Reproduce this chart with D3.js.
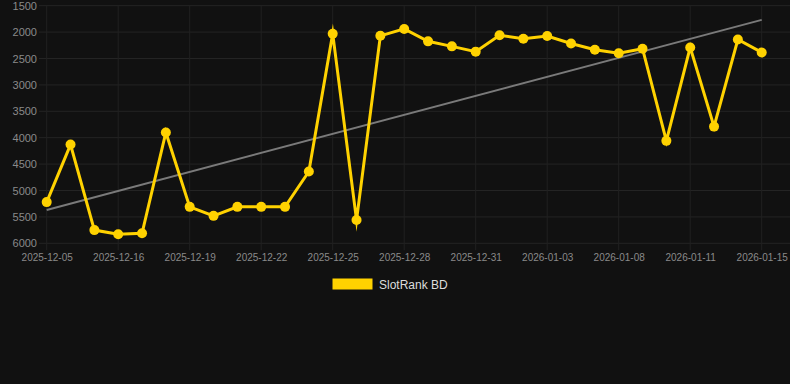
<!DOCTYPE html>
<html>
<head>
<meta charset="utf-8">
<script src="https://cdn.jsdelivr.net/npm/d3@7"></script>
<style>
  html, body { margin: 0; padding: 0; background: #111111; }
  svg { display: block; }
  text { font-family: "Liberation Sans", Arial, sans-serif; }
</style>
</head>
<body>
<svg id="chart" width="790" height="384"></svg>
<script>
const dates = [
  "2025-12-05","2025-12-13","2025-12-14","2025-12-16","2025-12-17","2025-12-18",
  "2025-12-19","2025-12-20","2025-12-21","2025-12-22","2025-12-23","2025-12-24",
  "2025-12-25","2025-12-26","2025-12-27","2025-12-28","2025-12-29","2025-12-30",
  "2025-12-31","2026-01-01","2026-01-02","2026-01-03","2026-01-04","2026-01-05",
  "2026-01-08","2026-01-09","2026-01-10","2026-01-11","2026-01-12","2026-01-13",
  "2026-01-15"
];
const rankValues = [
  5220, 4130, 5750, 5830, 5810, 3900,
  5310, 5480, 5310, 5310, 5310, 4640,
  2030, 5560, 2070, 1940, 2175, 2270,
  2370, 2060, 2125, 2075, 2215, 2335,
  2400, 2315, 4060, 2290, 3790, 2140,
  2385
];
const yTicks = [1500, 2000, 2500, 3000, 3500, 4000, 4500, 5000, 5500, 6000];
const seriesName = "SlotRank BD";

const W = 790, H = 384;
const plotLeft = 46.7, plotRight = 761.7, plotTop = 5.7, plotBottom = 243.3;
const gold = "#ffd200";

const svg = d3.select("#chart");
svg.append("rect").attr("width", W).attr("height", H).attr("fill", "#111111");

const x = d3.scalePoint().domain(d3.range(dates.length)).range([plotLeft, plotRight]);
const y = d3.scaleLinear().domain([1500, 6000]).range([plotTop, plotBottom]);

// horizontal grid
svg.append("g").selectAll("line").data(yTicks).join("line")
  .attr("x1", 39).attr("x2", W)
  .attr("y1", d => y(d)).attr("y2", d => y(d))
  .attr("stroke", "#242424").attr("stroke-width", 1);

// vertical grid at shown labels (every third)
const shown = d3.range(0, dates.length, 3);
svg.append("g").selectAll("line").data(shown).join("line")
  .attr("x1", d => x(d)).attr("x2", d => x(d))
  .attr("y1", plotTop).attr("y2", plotBottom + 7)
  .attr("stroke", "#202020").attr("stroke-width", 1);

// y axis labels
const yAxis = d3.axisLeft(y).tickValues(yTicks).tickSize(0).tickPadding(0).tickFormat(d3.format("d"));
const gy = svg.append("g").attr("transform", "translate(37,0)").call(yAxis);
gy.select(".domain").remove();
gy.selectAll("text").attr("fill", "#8a8a8a").attr("font-size", "11px")
  .attr("font-family", "Liberation Sans, Arial, sans-serif");

// x axis labels
const xAxis = d3.axisBottom(x).tickValues(shown).tickSize(0).tickPadding(0).tickFormat(i => dates[i]);
const gx = svg.append("g").attr("transform", `translate(0,${plotBottom + 11})`).call(xAxis);
gx.select(".domain").remove();
gx.selectAll("text").attr("fill", "#8a8a8a").attr("font-size", "10px")
  .attr("font-family", "Liberation Sans, Arial, sans-serif");

// trend line (least squares over the series)
const n = rankValues.length;
const mx = d3.mean(d3.range(n)), my = d3.mean(rankValues);
const slope = d3.sum(d3.range(n), i => (i - mx) * (rankValues[i] - my)) / d3.sum(d3.range(n), i => (i - mx) ** 2);
const intercept = my - slope * mx;
svg.append("line")
  .attr("x1", x(0)).attr("y1", y(intercept))
  .attr("x2", x(n - 1)).attr("y2", y(intercept + slope * (n - 1)))
  .attr("stroke", "#7a7a7a").attr("stroke-width", 2);

// series line
const line = d3.line().x((d, i) => x(i)).y(d => y(d));
svg.append("path").datum(rankValues)
  .attr("d", line).attr("fill", "none")
  .attr("stroke", gold).attr("stroke-width", 3)
  .attr("stroke-linejoin", "miter").attr("stroke-miterlimit", 10);

// points
svg.append("g").selectAll("circle").data(rankValues).join("circle")
  .attr("cx", (d, i) => x(i)).attr("cy", d => y(d)).attr("r", 5)
  .attr("fill", gold);

// legend
const lg = svg.append("g");
lg.append("rect").attr("x", 332.5).attr("y", 278.5).attr("width", 40).attr("height", 11)
  .attr("fill", gold);
lg.append("text").attr("x", 379).attr("y", 288.5).attr("fill", "#dddddd")
  .attr("font-size", "12px").text(seriesName);
</script>
</body>
</html>
